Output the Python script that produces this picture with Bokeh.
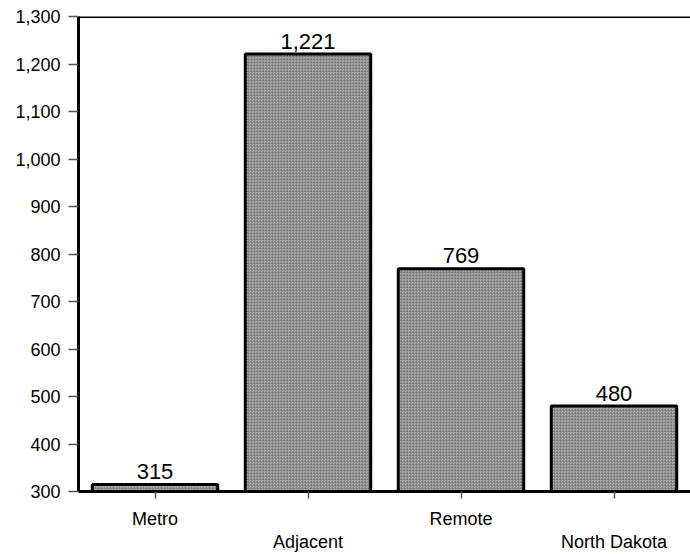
from bokeh.plotting import figure
from bokeh.models import (FactorRange, Range1d, FixedTicker, NumeralTickFormatter, Span, ColumnDataSource,
                          CategoricalAxis, CustomJSTickFormatter)
from bokeh.core.properties import value
from bokeh.embed import file_html
from bokeh.resources import INLINE

categories = ["Metro", "Adjacent", "Remote", "North Dakota"]
counts = [315, 1221, 769, 480]
value_labels = ["315", "1,221", "769", "480"]
upper_row = ["Metro", "Remote"]
lower_row = ["Adjacent", "North Dakota"]
y_ticks = [300, 400, 500, 600, 700, 800, 900, 1000, 1100, 1200, 1300]
y_min, y_max = 300, 1300

FONT = "Liberation Sans"

src = ColumnDataSource(dict(cat=categories, top=counts, lab=value_labels))

p = figure(x_range=FactorRange(factors=categories, range_padding=0),
           y_range=Range1d(y_min, y_max),
           width=690, height=554, output_backend="svg", toolbar_location=None,
           min_border_left=78, min_border_right=0, min_border_top=16, min_border_bottom=0)

p.outline_line_color = None
p.background_fill_color = "white"
p.border_fill_color = "white"
p.xgrid.visible = False
p.ygrid.visible = False

p.vbar(x="cat", top="top", bottom=y_min, width=0.82, source=src,
       fill_color="#b2b2b2", line_color="black", line_width=3,
       hatch_pattern="criss_cross", hatch_color="#6a6a6a", hatch_scale=3, hatch_weight=1, hatch_alpha=0.45)

p.text(x="cat", y="top", text="lab", source=src, text_align="center", text_baseline="alphabetic",
       y_offset=-13, text_font=value(FONT), text_font_size="22px", text_color="black")

top_line = Span(location=y_max, dimension="width", line_color="black", line_width=3)
p.add_layout(top_line)

# y axis
p.yaxis.ticker = FixedTicker(ticks=y_ticks)
p.yaxis.formatter = NumeralTickFormatter(format="0,0")
p.yaxis.axis_line_color = "black"
p.yaxis.axis_line_width = 3
p.yaxis.major_tick_line_color = "#555555"
p.yaxis.major_tick_line_width = 1.5
p.yaxis.major_tick_in = 0
p.yaxis.major_tick_out = 10
p.yaxis.minor_tick_line_color = None
p.yaxis.major_label_standoff = 8
p.yaxis.major_label_text_font = FONT
p.yaxis.major_label_text_font_size = "18px"
p.yaxis.major_label_text_color = "black"

row_code = "return keep.includes(tick) ? tick : ' ';"

# x axis (upper row of labels)
xa = p.xaxis[0]
xa.axis_line_color = "black"
xa.axis_line_width = 3
xa.major_tick_line_color = "#555555"
xa.major_tick_line_width = 1.5
xa.major_tick_in = 0
xa.major_tick_out = 7
xa.major_label_standoff = 10
xa.major_label_text_font = FONT
xa.major_label_text_font_size = "18px"
xa.major_label_text_color = "black"
xa.formatter = CustomJSTickFormatter(args=dict(keep=upper_row), code=row_code)

# second axis for the staggered lower row of labels
xb = CategoricalAxis(axis_line_color=None, major_tick_line_color=None, minor_tick_line_color=None,
                     major_tick_in=0, major_tick_out=0, major_label_standoff=0,
                     major_label_text_font=FONT, major_label_text_font_size="18px",
                     major_label_text_color="black",
                     formatter=CustomJSTickFormatter(args=dict(keep=lower_row), code=row_code))
p.add_layout(xb, "below")

open("out.html", "w").write(file_html(p, INLINE))
